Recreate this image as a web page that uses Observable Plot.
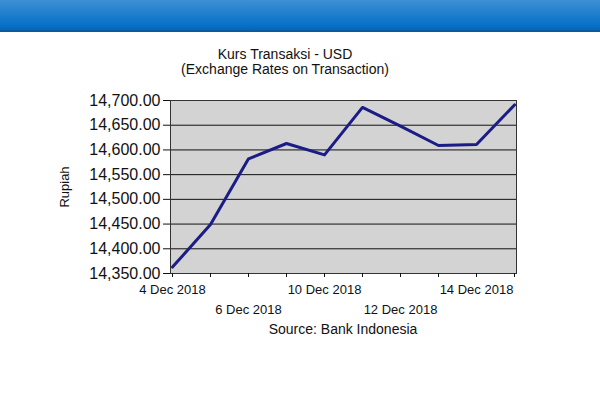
<!DOCTYPE html>
<html><head><meta charset="utf-8">
<script src="https://cdn.jsdelivr.net/npm/d3@7"></script>
<script src="https://cdn.jsdelivr.net/npm/@observablehq/plot@0.6"></script>
<style>
body{margin:0;background:#fff;font-family:Arial,"Liberation Sans",sans-serif;width:600px;height:400px;position:relative;overflow:hidden}
#hdr{position:absolute;left:0;top:0;width:600px;height:30px;background:linear-gradient(#3d90d4,#0a72c8 80%,#0068bc);border-bottom:2px solid #0a5a9c}
#title{position:absolute;left:0;width:570px;top:47px;text-align:center;font-size:14px;line-height:15px;color:#111}
#chart{position:absolute;left:0;top:0}
#source{position:absolute;left:170px;width:346px;top:321px;text-align:center;font-size:14px;color:#111}
</style></head>
<body>
<div id="hdr"></div>
<div id="chart"></div>
<div id="title">Kurs Transaksi - USD<br>(Exchange Rates on Transaction)</div>
<div id="source">Source: Bank Indonesia</div>
<script>
const dates = ["4 Dec 2018","5 Dec 2018","6 Dec 2018","7 Dec 2018","10 Dec 2018","11 Dec 2018","12 Dec 2018","13 Dec 2018","14 Dec 2018","17 Dec 2018"];
const rates = [14363,14449,14582,14613,14590,14686,14648,14609,14611,14691];
const yTicks = [14350,14400,14450,14500,14550,14600,14650,14700];
const labelRow1 = ["4 Dec 2018","10 Dec 2018","14 Dec 2018"];
const labelRow2 = ["6 Dec 2018","12 Dec 2018"];
const data = dates.map((d,i)=>({date:d, rate:rates[i]}));
const fmt = d3.format(",.2f");
const chart = Plot.plot({
  width:600, height:345, marginTop:100, marginBottom:72, marginLeft:170, marginRight:84,
  style:{fontFamily:"Arial, 'Liberation Sans', sans-serif", color:"#111", background:"transparent", overflow:"visible"},
  x:{type:"point", domain:dates, padding:0},
  y:{domain:[14350,14700]},
  marks:[
    Plot.frame({fill:"#d3d3d3"}),
    Plot.gridY(yTicks,{stroke:"#111", strokeOpacity:1}),
    Plot.frame({stroke:"#333"}),
    Plot.axisY(yTicks,{tickFormat:d=>fmt(d), fontSize:16, tickSize:7, tickPadding:3, label:null}),
    Plot.axisX(dates,{tickSize:4, tickFormat:()=>"", label:null}),
    Plot.axisX(labelRow1,{tickSize:0, tickPadding:11, fontSize:13, label:null}),
    Plot.axisX(labelRow2,{tickSize:0, tickPadding:31, fontSize:13, label:null}),
    Plot.line(data,{x:"date", y:"rate", stroke:"#1c1c86", strokeWidth:3}),
    Plot.text(["Rupiah"],{frameAnchor:"left", textAnchor:"middle", lineAnchor:"middle", rotate:-90, dx:-106, fontSize:13})
  ]
});
document.getElementById("chart").appendChild(chart);
</script>
</body></html>
